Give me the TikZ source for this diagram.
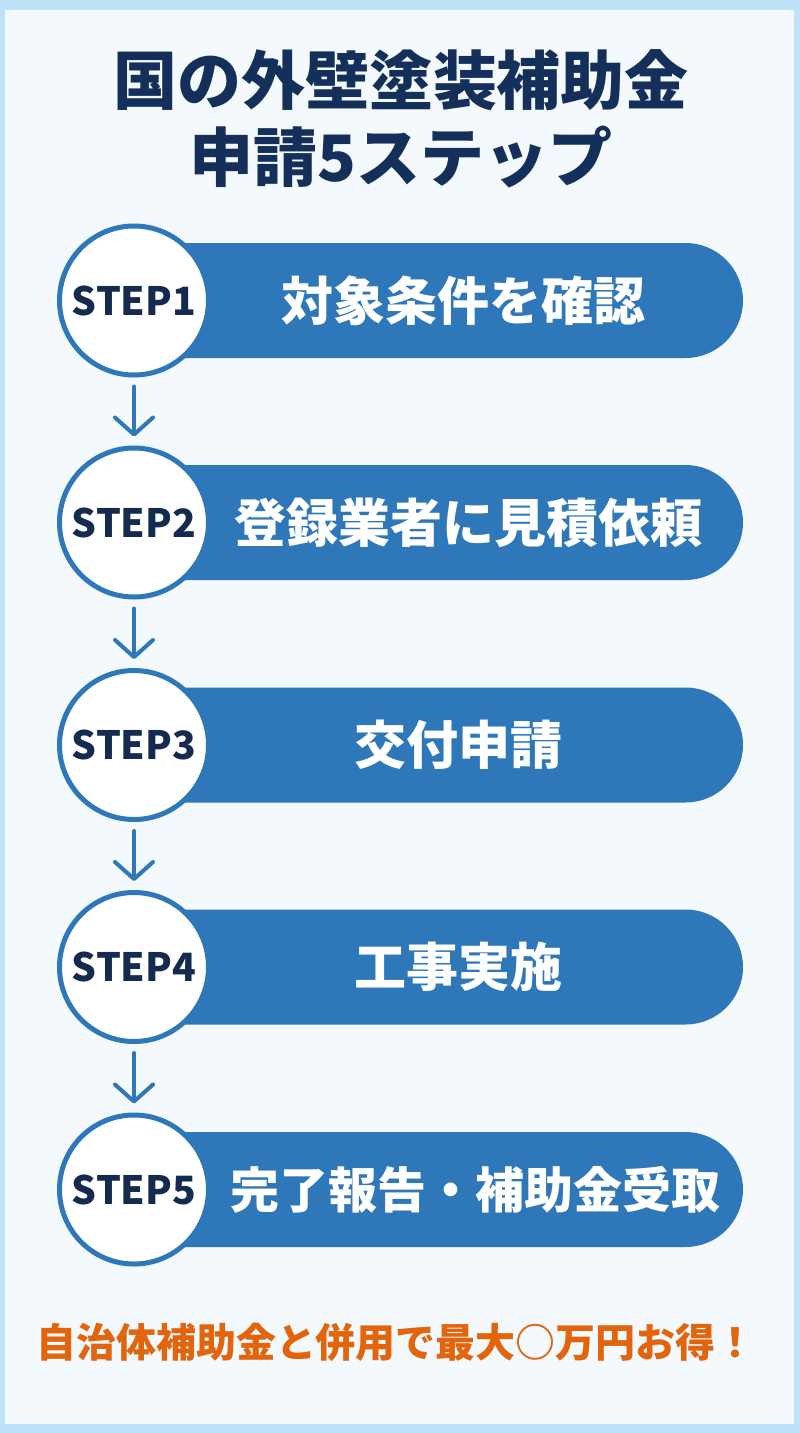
\documentclass[tikz,border=0pt]{standalone}
\usepackage{fontspec}
\newfontfamily\jp{Noto Sans CJK JP}
\usetikzlibrary{shapes.misc,arrows.meta}
\definecolor{outerbg}{HTML}{BEE3F8}
\definecolor{innerbg}{HTML}{F3F9FD}
\definecolor{barblue}{HTML}{2E78BA}
\definecolor{navy}{HTML}{14305A}
\definecolor{stepnavy}{HTML}{142A4F}
\definecolor{accent}{HTML}{E2640C}
\tikzset{
  bar/.style={rounded rectangle, rounded rectangle left arc=none, fill=barblue,
    minimum width=563pt, minimum height=115pt, inner sep=0pt},
  bartext/.style={text=white, font=\jp\bfseries\fontsize{52}{58}\selectfont, inner sep=0pt},
  stepcircle/.style={circle, draw=barblue, line width=5pt, fill=white,
    minimum size=149pt, inner sep=0pt, text=stepnavy,
    font=\jp\bfseries\fontsize{39}{44}\selectfont},
  arr/.style={draw=barblue, line width=4pt, line cap=round,
    -{Straight Barb[length=17pt, width=38pt, line width=4pt, round]},
    shorten <=9pt, shorten >=9pt},
  titletext/.style={text=navy, font=\jp\bfseries\fontsize{64}{70}\selectfont, inner sep=0pt},
}
\begin{document}
\begin{tikzpicture}[x=1pt,y=-1pt]
\useasboundingbox (0,0) rectangle (800,1433);
\fill[outerbg] (0,0) rectangle (800,1433);
\fill[innerbg] (5,10) rectangle (794,1424);
\node[titletext] (title1) at (401,80) {国の外壁塗装補助金};
\node[titletext] (title2) at (401,157) {申請5ステップ};
% steps
\node[bar] (b1) at (461.5,300.5) {};
\node[bar] (b2) at (461.5,522.5) {};
\node[bar] (b3) at (461.5,745) {};
\node[bar] (b4) at (461.5,967) {};
\node[bar] (b5) at (461.5,1189.5) {};
\node[bartext] (t1) at (463,300.5) {対象条件を確認};
\node[bartext] (t2) at (468,522.5) {登録業者に見積依頼};
\node[bartext] (t3) at (458,745) {交付申請};
\node[bartext] (t4) at (458,967) {工事実施};
\node[bartext, font=\jp\bfseries\fontsize{49}{55}\selectfont] (t5) at (475,1189.5) {完了報告・補助金受取};
\node[stepcircle] (c1) at (134,300.5) {STEP1};
\node[stepcircle] (c2) at (134,522.5) {STEP2};
\node[stepcircle] (c3) at (134,745) {STEP3};
\node[stepcircle] (c4) at (134,967) {STEP4};
\node[stepcircle] (c5) at (134,1189.5) {STEP5};
\draw[arr] (c1) -- (c2);
\draw[arr] (c2) -- (c3);
\draw[arr] (c3) -- (c4);
\draw[arr] (c4) -- (c5);
\node[text=accent, font=\jp\bfseries\fontsize{40}{46}\selectfont, inner sep=0pt] (note) at (396,1342) {自治体補助金と併用で最大○万円お得！};
\end{tikzpicture}
\end{document}
